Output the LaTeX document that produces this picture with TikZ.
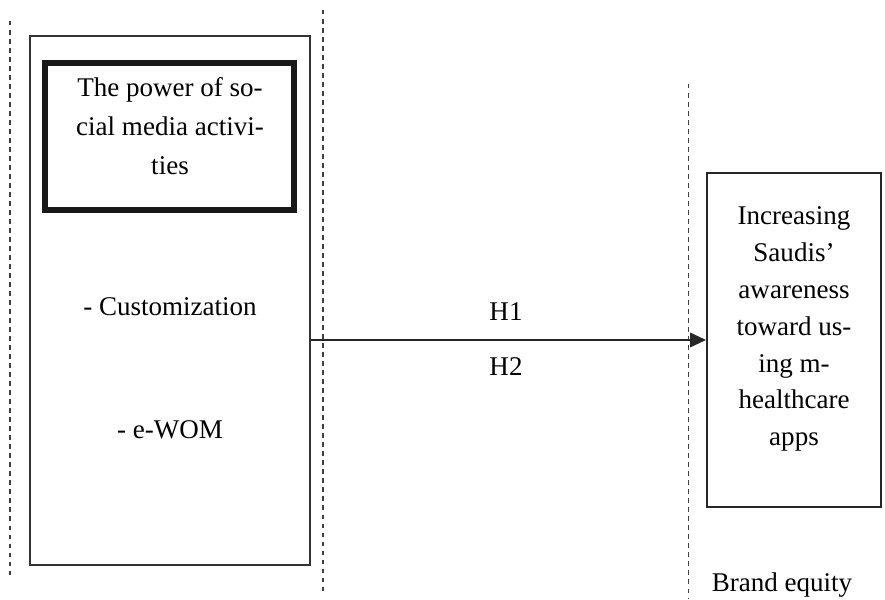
\documentclass[tikz,border=0pt]{standalone}
\usepackage{fontspec}
\setmainfont{Liberation Serif}
\usetikzlibrary{arrows.meta, positioning}

\tikzset{
  guide/.style={draw=black!75, line width=0.45pt, dash pattern=on 2pt off 2pt},
  framebox/.style={draw=black!80, line width=0.8pt, minimum width=124.3pt, minimum height=234.9pt, inner sep=0pt},
  powerbox/.style={draw=black!90, line width=2.7pt, minimum width=110.6pt, minimum height=65.3pt, inner sep=0pt},
  goalbox/.style={draw=black!85, line width=0.9pt, minimum width=77.3pt, minimum height=148.3pt, inner sep=0pt},
  boxtext/.style={font=\fontsize{12}{16.8}\selectfont, align=center, inner sep=0pt},
}

\begin{document}
\begin{tikzpicture}[x=0.444pt, y=-0.444pt]
  \useasboundingbox (0,0) rectangle (885,600);
  % dashed guides
  \coordinate (g1top) at (10,21);
  \coordinate (g1bot) at (10,579);
  \coordinate (g2top) at (323,10);
  \coordinate (g2bot) at (323,595);
  \coordinate (g3top) at (688,84);
  \coordinate (g3bot) at (688,598);
  \draw[guide] (g1top) -- (g1bot);
  \draw[guide] (g2top) -- (g2bot);
  \draw[guide] (g3top) -- (g3bot);
  % boxes
  \node[framebox] (frame) at (170,300.5) {};
  \node[powerbox] (power) at (169.5,136.5) {};
  \node[boxtext, font=\fontsize{12}{17.2}\selectfont] (powertext) at (170,126)
    {The power of so-\\cial media activi-\\ties};
  \node[boxtext] (custom) at (170,307) {- Customization};
  \node[boxtext] (ewom) at (170,430) {- e-WOM};
  \node[goalbox] (goal) at (794,340) {};
  \node[boxtext, font=\fontsize{12}{16.4}\selectfont] (goaltext) at (794,329)
    {Increasing\\Saudis’\\awareness\\toward us-\\ing m-\\healthcare\\apps};
  \node[boxtext] (equity) at (782,585) {Brand equity};
  % hypotheses
  \draw[black!85, line width=0.55pt, -{Triangle[length=7pt, width=6.5pt]}]
    (frame.east |- goal.west) -- (goal.west);
  \node[boxtext] (h1) at (506,312) {H1};
  \node[boxtext] (h2) at (506,367) {H2};
\end{tikzpicture}
\end{document}
